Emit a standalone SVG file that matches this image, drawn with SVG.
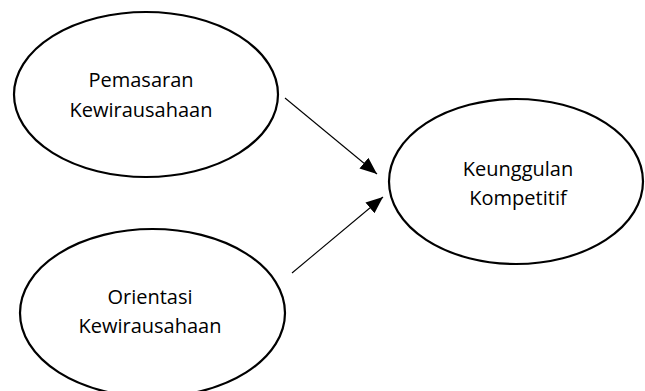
<svg xmlns="http://www.w3.org/2000/svg" width="645" height="391" viewBox="0 0 645 391">
<style>
.node ellipse{fill:#fff;stroke:#000;stroke-width:2.2}
.node text{font-family:"Open Sans","Liberation Sans",sans-serif;font-size:20px;fill:#000;text-anchor:middle}
.conn line{stroke:#000;stroke-width:1.1}
</style>
<defs>
<marker id="arr" markerUnits="userSpaceOnUse" markerWidth="18" markerHeight="14" refX="17" refY="7" orient="auto">
<path d="M0,0 L17,7 L0,14 Z" fill="#000"/>
</marker>
</defs>
<rect width="645" height="391" fill="#fff"/>
<g id="pemasaran" class="node">
<ellipse cx="146" cy="94.5" rx="132" ry="82.5"/>
<text x="141" y="87">Pemasaran</text>
<text x="141" y="117">Kewirausahaan</text>
</g>
<g id="orientasi" class="node">
<ellipse cx="152.5" cy="313" rx="132.5" ry="84"/>
<text x="150" y="304">Orientasi</text>
<text x="150" y="333">Kewirausahaan</text>
</g>
<g id="keunggulan" class="node">
<ellipse cx="516" cy="181.5" rx="127" ry="82.5"/>
<text x="518" y="176">Keunggulan</text>
<text x="518" y="205">Kompetitif</text>
</g>
<g id="connectors" class="conn">
<line x1="285" y1="98" x2="377" y2="174" marker-end="url(#arr)"/>
<line x1="292" y1="273" x2="383" y2="197" marker-end="url(#arr)"/>
</g>
</svg>
